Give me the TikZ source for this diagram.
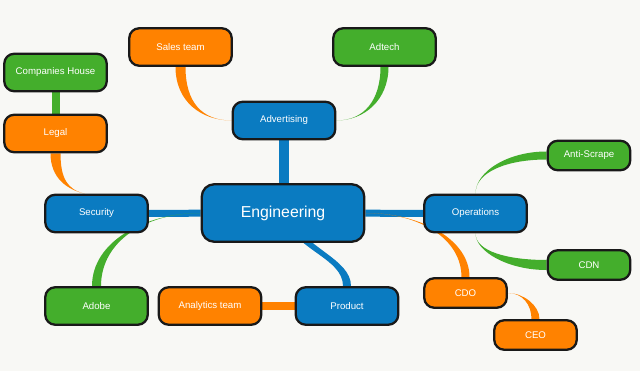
\documentclass[tikz,border=0pt]{standalone}
\usepackage{fontspec}
\setmainfont{Liberation Sans}
\usepackage{tikz}
\usetikzlibrary{calc,backgrounds}
\definecolor{azul}{RGB}{10,123,193}
\definecolor{laranja}{RGB}{255,130,0}
\definecolor{verde}{RGB}{68,174,44}
\definecolor{fundo}{RGB}{248,248,245}
\definecolor{contorno}{RGB}{25,25,25}
\tikzset{
  topico/.style={rectangle,rounded corners=4mm,draw=contorno,line width=2.6pt,
    minimum width=41mm,minimum height=15mm,inner sep=1pt,text=white,
    font=\fontsize{11}{13}\selectfont},
  subtopico/.style={topico,minimum width=33mm,minimum height=11.8mm},
  central/.style={topico,rounded corners=5mm,minimum width=65mm,minimum height=23mm,
    font=\fontsize{18}{22}\selectfont},
  barra/.style={line width=#1}
}
% ramo afilado: cor, ponta fina, ponta grossa, controle fino, controle grosso, meia largura grossa, meia largura fina
\newcommand{\ramo}[7]{%
  \fill[#1] ($(#2)+(#7)$) .. controls ($(#2)+(#4)+(#7)$) and ($(#3)+(#5)+(#6)$) .. ($(#3)+(#6)$)
    -- ($(#3)-(#6)$) .. controls ($(#3)+(#5)-(#6)$) and ($(#2)+(#4)-(#7)$) .. ($(#2)-(#7)$) -- cycle;}

\begin{document}
\begin{tikzpicture}[x=0.4mm,y=-0.4mm]
\useasboundingbox (0,0) rectangle (640,371);
\node[central,fill=azul] (eng) at (283,213) {Engineering};
\node[topico,fill=azul] (adv) at (284,120.5) {Advertising};
\node[topico,fill=azul] (sec) at (96.5,213.5) {Security};
\node[topico,fill=azul] (ops) at (475.5,213.5) {Operations};
\node[topico,fill=azul] (prod) at (347,306) {Product};
\node[topico,fill=laranja] (sales) at (180.5,47) {Sales team};
\node[topico,fill=verde] (adtech) at (384.5,47) {Adtech};
\node[topico,fill=verde] (comp) at (55.5,72.5) {Companies House};
\node[topico,fill=laranja] (legal) at (55.5,133.5) {Legal};
\node[topico,fill=verde] (adobe) at (96.5,306) {Adobe};
\node[topico,fill=laranja] (ana) at (210,306) {Analytics team};
\node[subtopico,fill=verde] (anti) at (589,155.5) {Anti-Scrape};
\node[subtopico,fill=verde] (cdn) at (589,265) {CDN};
\node[subtopico,fill=laranja] (cdo) at (465.5,293) {CDO};
\node[subtopico,fill=laranja] (ceo) at (535.5,335) {CEO};

\begin{scope}[on background layer]
\fill[fundo] (0,0) rectangle (640,371);
\draw[azul,barra=4mm] (adv) -- (adv |- eng);
\draw[azul,barra=2.8mm] (sec) -- (eng);
\draw[azul,barra=2.8mm] (eng) -- (ops);
\draw[verde,barra=3.2mm] (comp) -- (legal);
\draw[laranja,barra=3.2mm] (ana) -- (prod);
\ramo{laranja}{adv.west}{sales.south}{-30,0}{0,35}{5,0}{0,0}
\ramo{verde}{adv.east}{adtech.south}{28,0}{0,33}{4,0}{0,0}
\ramo{laranja}{$(sec.north)+(-12,0)$}{legal.south}{-17,-4}{0,25}{5,0}{0,0}
\ramo{verde}{eng.west}{adobe.north}{-55,0}{0,-45}{4.5,0}{0,0}
\ramo{azul}{eng.center}{prod.north}{17,37}{0,-28}{4,0}{3,-1.5}
\ramo{laranja}{eng.east}{cdo.north}{55,0}{0,-38}{4,0}{0,0}
\ramo{laranja}{cdo.east}{ceo.north}{15,0}{0,-14}{4,0}{0,0}
\ramo{verde}{ops.north}{anti.west}{0,-22}{-39,0}{0,4}{0,0}
\ramo{verde}{ops.south}{cdn.west}{0,18}{-39,0}{0,5}{0,0}
\end{scope}
\end{tikzpicture}
\end{document}
